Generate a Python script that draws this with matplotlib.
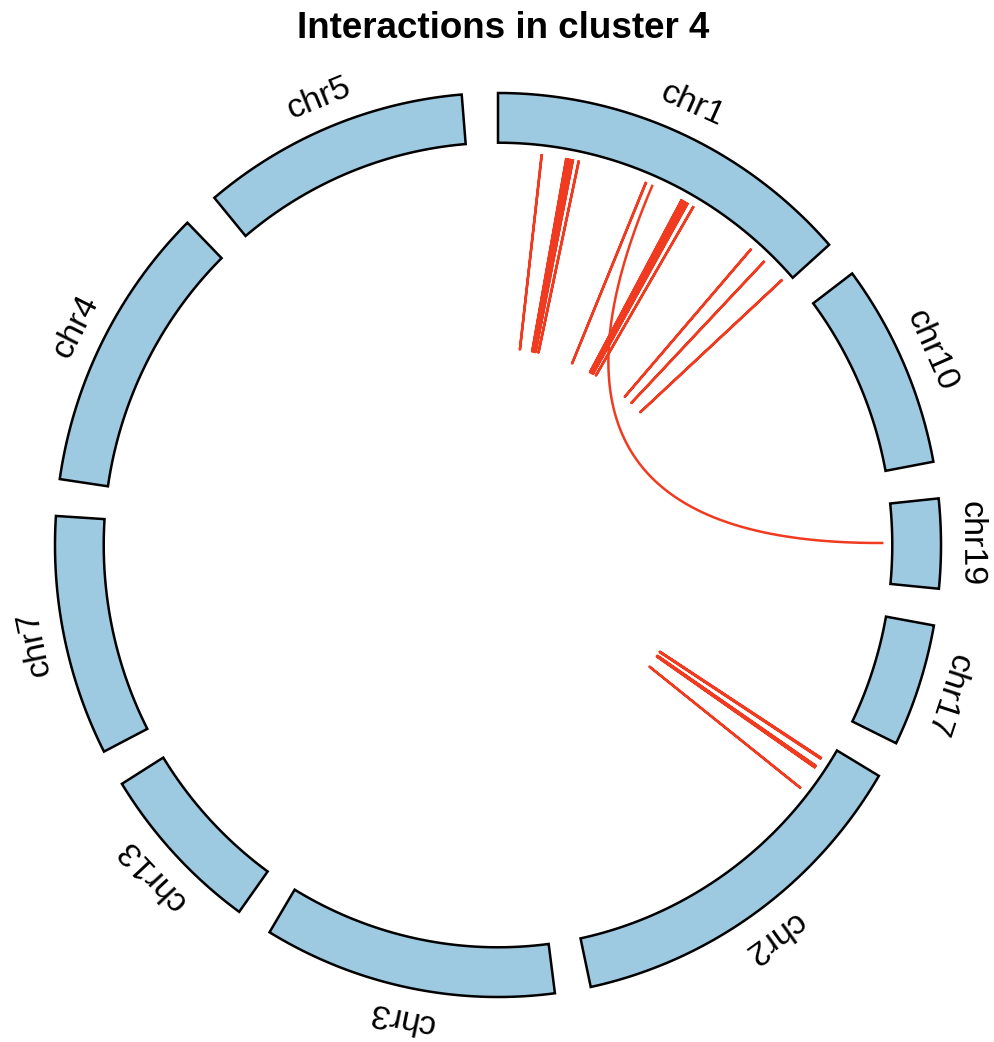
import numpy as np
import matplotlib
matplotlib.use("Agg")
import matplotlib.pyplot as plt
from matplotlib.patches import Polygon

plt.rcParams['font.family'] = ['Liberation Sans', 'DejaVu Sans']

# chromosome order around the circle (clockwise from the top) and sizes in Mb
chroms = ['chr1', 'chr10', 'chr19', 'chr17', 'chr2', 'chr3', 'chr13', 'chr7', 'chr4', 'chr5']
chrom_len = [249.25, 135.53, 59.13, 81.20, 243.20, 198.02, 115.17, 159.14, 191.15, 180.92]

# interactions: (chrom, start Mb) -> (chrom, end Mb)
link_chr_a = ['chr1'] * 15 + ['chr1'] + ['chr2'] * 5
link_pos_a = [33.5, 52.6, 54.1, 56.2, 57.7, 62.3, 116.4, 146.8, 148.4, 149.9, 152.0, 157.1,
              211.7, 225.4, 244.9, 121.9, 11.0, 11.5, 18.2, 19.5, 38.5]
link_chr_b = ['chr1'] * 15 + ['chr19'] + ['chr2'] * 5
link_pos_b = [33.7, 52.8, 54.3, 56.4, 57.9, 62.5, 116.6, 147.0, 148.6, 150.1, 152.2, 157.3,
              211.9, 225.6, 245.1, 29.0, 11.2, 11.7, 18.4, 19.7, 38.7]

title = 'Interactions in cluster 4'

gap_deg = 4.7
start_deg = 90.0
r_in, r_out = 0.89, 1.0
r_link = 0.87
r_label = 1.068
fill_col = '#9ECAE1'
link_col = '#F03B20'

deg_per_mb = (360 - gap_deg * len(chroms)) / sum(chrom_len)
sector_start = {}
a = start_deg
for name, ln in zip(chroms, chrom_len):
    sector_start[name] = a
    a -= ln * deg_per_mb + gap_deg


def to_angle(name, pos):
    return np.radians(sector_start[name] - pos * deg_per_mb)


W, H = 994, 1042
fig = plt.figure(figsize=(W / 100, H / 100), dpi=100)
cx, cy, rx, ry = 498, 545, 443, 452
lim = 1.12
ax = fig.add_axes([(cx - lim * rx) / W, (H - cy - lim * ry) / H,
                   2 * lim * rx / W, 2 * lim * ry / H])
ax.set_xlim(-lim, lim)
ax.set_ylim(-lim, lim)
ax.axis('off')

# sector blocks and labels
for name, ln in zip(chroms, chrom_len):
    t = np.linspace(to_angle(name, 0), to_angle(name, ln), 200)
    xs = np.concatenate([r_out * np.cos(t), r_in * np.cos(t[::-1])])
    ys = np.concatenate([r_out * np.sin(t), r_in * np.sin(t[::-1])])
    ax.add_patch(Polygon(np.column_stack([xs, ys]), closed=True,
                         facecolor=fill_col, edgecolor='black', lw=1.8, joinstyle='miter'))
    mid = to_angle(name, ln / 2)
    ax.text(r_label * np.cos(mid), r_label * np.sin(mid), name,
            rotation=np.degrees(mid) - 90, rotation_mode='anchor',
            ha='center', va='center', fontsize=24.5, clip_on=False)

# links as quadratic Bezier curves pulled toward the centre
tt = np.linspace(0, 1, 300)[:, None]
for ca, pa, cb, pb in zip(link_chr_a, link_pos_a, link_chr_b, link_pos_b):
    t1, t2 = to_angle(ca, pa), to_angle(cb, pb)
    p1 = r_link * np.array([np.cos(t1), np.sin(t1)])
    p2 = r_link * np.array([np.cos(t2), np.sin(t2)])
    pts = (1 - tt) ** 2 * p1 + tt ** 2 * p2
    ax.plot(pts[:, 0], pts[:, 1], color=link_col, lw=1.8, solid_capstyle='butt')

fig.text(503.5 / W, 1 - 28 / H, title, ha='center', va='center',
         fontsize=26.5, fontweight='bold')

fig.savefig('out.png', dpi=100)
